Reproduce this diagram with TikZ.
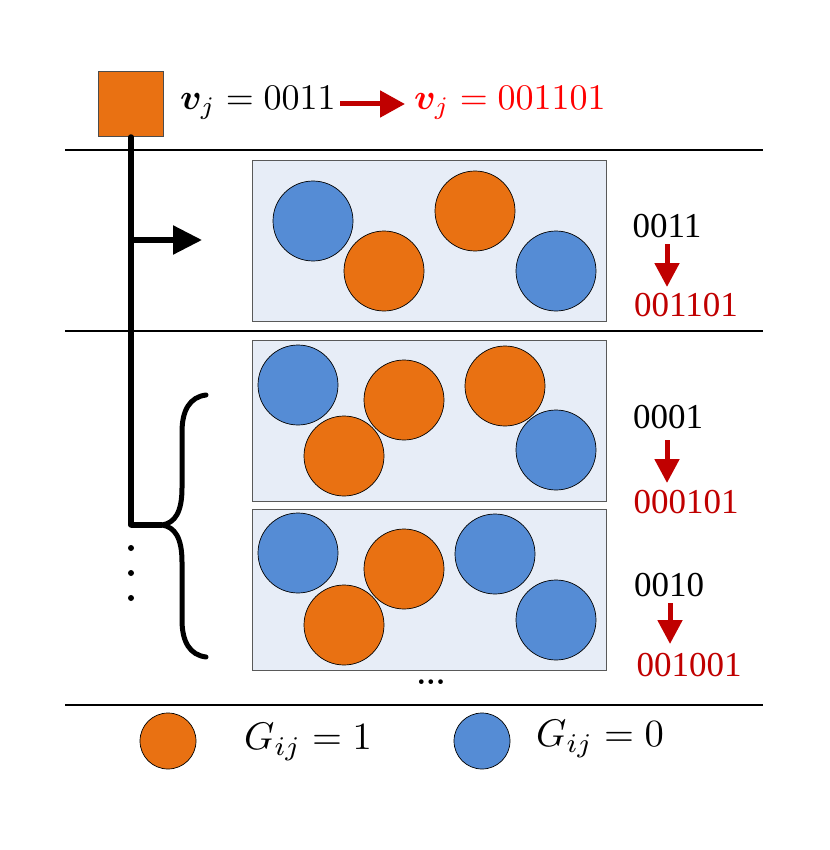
\documentclass[tikz,border=0pt]{standalone}
\usepackage{amsmath}
\usepackage{bm}
\usepackage{graphicx}
\usepackage{fontspec}
\newfontfamily\timesf{Liberation Serif}
\usetikzlibrary{arrows.meta}
\definecolor{orng}{RGB}{233,113,18}
\definecolor{blu}{RGB}{85,140,213}
\definecolor{panelc}{RGB}{231,237,247}
\definecolor{darkr}{RGB}{192,0,0}
\definecolor{brightr}{RGB}{255,0,0}
\newcommand{\myBigMath}[1]{\scalebox{3.6}{$#1$}}
\newcommand{\myLegMath}[1]{\scalebox{3.85}{$#1$}}
\begin{document}
\begin{tikzpicture}[x=1pt,y=-1pt,
  hline/.style={line width=2.8pt},
  ball/.style={circle, draw=black, line width=0.7pt, minimum size=80pt, inner sep=0pt},
  ob/.style={ball, fill=orng},
  bb/.style={ball, fill=blu},
  lball/.style={circle, draw=black, line width=0.7pt, minimum size=56pt, inner sep=0pt},
  panel/.style={draw=gray!70!black, fill=panelc, line width=0.8pt, minimum width=354pt, minimum height=161pt, inner sep=0pt},
  redarr/.style={-{Triangle[length=24pt,width=24pt]}, line width=5pt, draw=darkr},
  blkarr/.style={-{Triangle[length=29pt,width=28pt]}, line width=5.5pt, draw=black},
  thick5/.style={line width=5.5pt},
  bin/.style={font=\timesf\fontsize{35}{40}\selectfont, inner sep=0pt},
  eq/.style={inner sep=0pt},
]
\useasboundingbox (0,0) rectangle (829,850);

% top square and equation
\node[draw=black!70, fill=orng, line width=0.8pt, minimum size=65pt, inner sep=0pt] (sq) at (131,104) {};
\node[eq, anchor=west] (v1) at (180,103) {\myBigMath{\bm{v}_j = 0011}};
\node[eq, anchor=west, text=brightr] (v2) at (414,103) {\myBigMath{\bm{v}_j = 001101}};
\coordinate (a1) at (340,104);
\coordinate (a2) at (405,104);
\draw[-{Triangle[length=25pt,width=26pt]}, line width=5pt, draw=darkr] (a1) -- (a2);

% horizontal separators
\coordinate (h1l) at (65,150); \coordinate (h1r) at (763,150);
\coordinate (h2l) at (65,331); \coordinate (h2r) at (763,331);
\coordinate (h3l) at (65,705); \coordinate (h3r) at (763,705);
\draw[hline] (h1l) -- (h1r);
\draw[hline] (h2l) -- (h2r);
\draw[hline] (h3l) -- (h3r);

% panels
\node[panel] (p1) at (429,241) {};
\node[panel] (p2) at (429,420.5) {};
\node[panel] (p3) at (429,589.5) {};

% panel 1 balls
\node[bb] (c11) at (313,221) {};
\node[ob] (c12) at (384,271) {};
\node[ob] (c13) at (475,211) {};
\node[bb] (c14) at (556,271) {};
% panel 2 balls
\node[bb] (c21) at (298,385) {};
\node[ob] (c22) at (404,400) {};
\node[ob] (c23) at (344,456) {};
\node[ob] (c24) at (505,386) {};
\node[bb] (c25) at (556,450) {};
% panel 3 balls
\node[bb] (c31) at (298,553) {};
\node[ob] (c32) at (404,569) {};
\node[ob] (c33) at (344,625) {};
\node[bb] (c34) at (495,554) {};
\node[bb] (c35) at (556,620) {};

% trunk line and arrow
\coordinate (tb) at (131,525);
\coordinate (ta) at (131,240);
\coordinate (tt) at (202,240);
\draw[thick5, line cap=round] (sq.center |- 0,137) -- (tb);
\draw[blkarr] (ta) -- (tt);

% brace
\coordinate (br) at (162,525);
\draw[thick5] (tb) -- (br);
\draw[line width=5pt, line cap=round]
  (206,395) .. controls (190,397) and (182,410) .. (182,432)
  -- (182,488) .. controls (182,512) and (175,523) .. (br)
  .. controls (175,527) and (182,538) .. (182,562)
  -- (182,620) .. controls (182,642) and (190,655) .. (206,657);

% vertical dots
\foreach \yy [count=\i] in {548,573,598} \fill (131,\yy) circle (3pt) coordinate (vd\i);

% horizontal dots
\node[inner sep=0pt] (hd) at (431,682) {\scalebox{3}{\bfseries ...}};

% right side binaries
\node[bin] (b1) at (667,226) {0011};
\node[bin, text=darkr] (r1) at (686,305) {001101};
\draw[redarr] (667,244) coordinate (b1s) -- (667,287) coordinate (b1e);

\node[bin] (b2) at (668,417) {0001};
\node[bin, text=darkr] (r2) at (686,502) {000101};
\draw[redarr] (667,440) coordinate (b2s) -- (667,483) coordinate (b2e);

\node[bin] (b3) at (669,585) {0010};
\node[bin, text=darkr] (r3) at (689,665) {001001};
\draw[redarr] (670,603) coordinate (b3s) -- (670,644) coordinate (b3e);

% legend
\node[lball, fill=orng] (lo) at (168,741) {};
\node[eq] (lg1) at (308,742) {\myLegMath{G_{ij} = 1}};
\node[lball, fill=blu] (lb) at (482,741) {};
\node[eq] (lg0) at (600,739) {\myLegMath{G_{ij} = 0}};
\end{tikzpicture}
\end{document}
